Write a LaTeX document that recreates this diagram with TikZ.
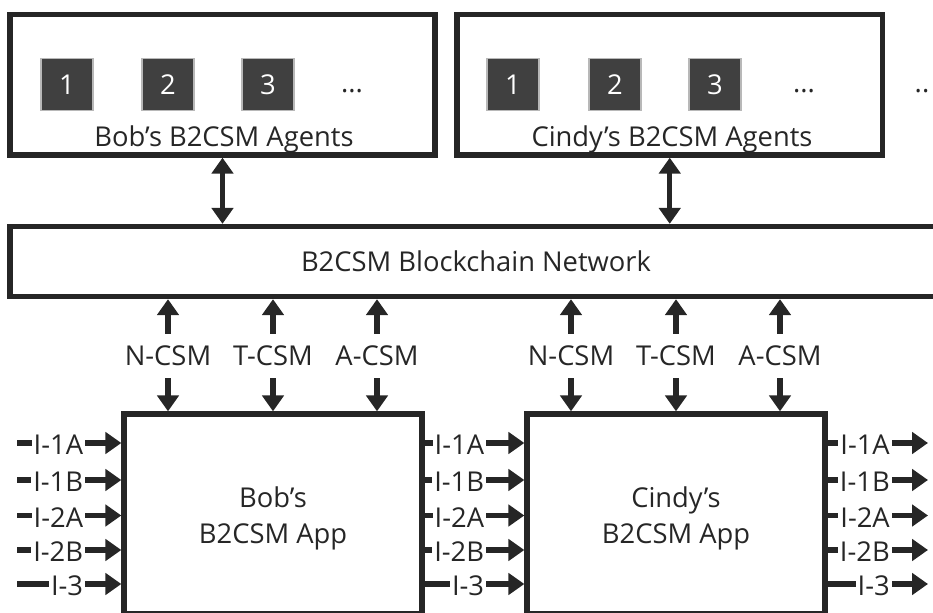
\documentclass[tikz,border=0pt]{standalone}
\usepackage{fontspec}
\setmainfont{Open Sans}
\usetikzlibrary{arrows.meta}
\definecolor{ink}{HTML}{262626}
\definecolor{tilefill}{HTML}{404040}
\definecolor{tileedge}{HTML}{B8B8B8}

\begin{document}
\begin{tikzpicture}[x=0.75pt,y=-0.75pt,
  every node/.style={font=\fontsize{20.5}{27}\selectfont, text=ink},
  frame/.style={draw=ink, line width=4pt, inner sep=0pt},
  tile/.style={fill=tilefill, draw=tileedge, line width=0.8pt, minimum size=39pt, text=white, inner sep=0pt},
  lab/.style={inner sep=0pt, minimum height=33pt},
  iolab/.style={fill=white, inner xsep=1.5pt, inner ysep=0pt, anchor=east},
  arr/.style={draw=ink, line width=3.8pt, -{Triangle[width=16pt,length=12pt]}},
  dbl/.style={draw=ink, line width=3.8pt, {Triangle[width=16pt,length=12pt]}-{Triangle[width=16pt,length=12pt]}},
]
\useasboundingbox (0,0) rectangle (933,613);
\clip (0,0) rectangle (933,613);

% agent pools
\node[frame, minimum width=318.75pt, minimum height=105.4pt] (bobA) at (222.5,84.75) {};
\node[frame, minimum width=319.1pt, minimum height=105.4pt] (cinA) at (669.75,84.75) {};
\node[tile] (b1) at (67,84.5) {1};
\node[tile] (b2) at (168,84.5) {2};
\node[tile] (b3) at (268,84.5) {3};
\node (bdots) at (352,91) {...};
\node[anchor=base] (bobAlab) at (224,146.5) {Bob’s B2CSM Agents};
\node[tile] (c1) at (513,84.5) {1};
\node[tile] (c2) at (615,84.5) {2};
\node[tile] (c3) at (715,84.5) {3};
\node (cdots) at (804,91) {...};
\node[anchor=base] (cinAlab) at (672,146.5) {Cindy’s B2CSM Agents};
\node (moredots) at (922,91) {..};

% blockchain network
\node[frame, minimum width=699pt, minimum height=52.5pt] (net) at (476,261.5) {B2CSM Blockchain Network};

\draw[dbl] (bobA.south) -- (bobA.south |- net.north);
\draw[dbl] (cinA.south) -- (cinA.south |- net.north);

% apps
\node[frame, minimum width=223.5pt, minimum height=150pt] (bobApp) at (273,514) {};
\node[frame, minimum width=223.5pt, minimum height=150pt] (cinApp) at (676,514) {};
\node[align=center] (bobAppLab) at (273,518) {Bob’s\\B2CSM App};
\node[align=center] (cinAppLab) at (676,518) {Cindy’s\\B2CSM App};

% CSM channels
\foreach \app/\pre in {bobApp/b, cinApp/c}{
  \foreach \dx/\name/\txt in {-105/n/N-CSM, 0/t/T-CSM, 104/a/A-CSM}{
    \node[lab] (\pre\name) at ([xshift=\dx*0.75pt]\app.center |- 0,356) {\txt};
    \draw[arr] (\pre\name.north) -- (\pre\name.north |- net.south);
    \draw[arr] (\pre\name.south) -- (\pre\name.south |- \app.north);
  }
}

% interface rows
\foreach \y/\k/\txt in {443/1/I-1A, 480/2/I-1B, 515.5/3/I-2A, 550/4/I-2B, 584/5/I-3}{
  \coordinate (inL\k) at (17,\y);
  \coordinate (outR\k) at (928,\y);
  \draw[arr] (inL\k) -- (bobApp.west |- inL\k);
  \draw[arr] (bobApp.east |- inL\k) -- (cinApp.west |- inL\k);
  \draw[arr] (cinApp.east |- inL\k) -- (outR\k);
  \node[iolab] (li\k) at ([xshift=-36*0.75pt,yshift=-1.5pt]bobApp.west |- inL\k) {\txt};
  \node[iolab] (mi\k) at ([xshift=-38*0.75pt,yshift=-1.5pt]cinApp.west |- inL\k) {\txt};
  \node[iolab] (ri\k) at ([xshift=-36*0.75pt,yshift=-1.5pt]outR\k) {\txt};
}
\end{tikzpicture}
\end{document}
